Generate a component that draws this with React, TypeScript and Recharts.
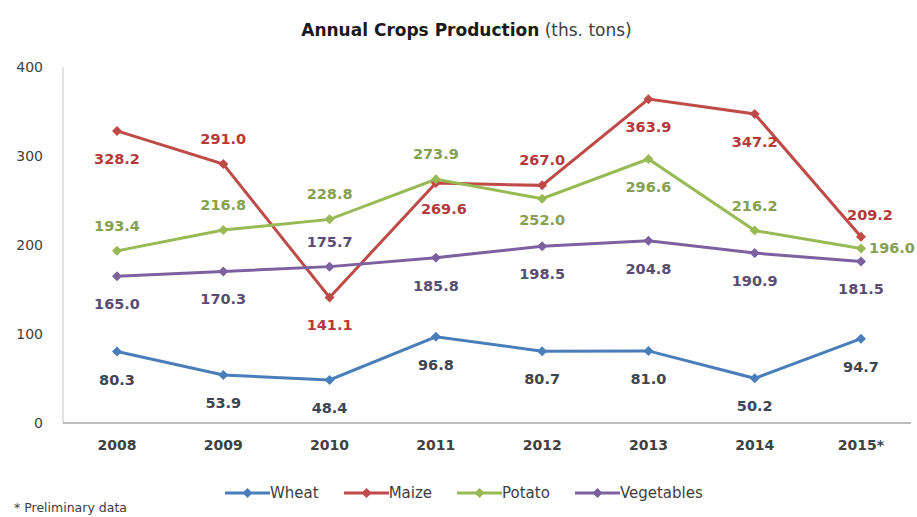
import React from "react";
import { LineChart, Line, XAxis, YAxis } from "recharts";

const years = ["2008", "2009", "2010", "2011", "2012", "2013", "2014", "2015*"];
const wheat = [80.3, 53.9, 48.4, 96.8, 80.7, 81.0, 50.2, 94.7];
const maize = [328.2, 291.0, 141.1, 269.6, 267.0, 363.9, 347.2, 209.2];
const potato = [193.4, 216.8, 228.8, 273.9, 252.0, 296.6, 216.2, 196.0];
const vegetables = [165.0, 170.3, 175.7, 185.8, 198.5, 204.8, 190.9, 181.5];
const yTicks = [0, 100, 200, 300, 400];

const data = years.map((year, i) => ({
  year,
  wheat: wheat[i],
  maize: maize[i],
  potato: potato[i],
  vegetables: vegetables[i],
}));

// where each value label sits relative to its point
const wheatPlace = ["b", "b", "b", "b", "b", "b", "b", "b"];
const maizePlace = ["b", "a", "b", "br", "a", "b", "b", "ar"];
const potatoPlace = ["a", "a", "a", "a", "bs", "b", "a", "r"];
const vegPlace = ["b", "b", "a", "b", "b", "b", "b", "b"];

const FONT = "'DejaVu Sans', sans-serif";

const series = [
  { key: "wheat", name: "Wheat", color: "#4a7ebb", text: "#3d4554", place: wheatPlace },
  { key: "maize", name: "Maize", color: "#be4b48", text: "#b5393a", place: maizePlace },
  { key: "potato", name: "Potato", color: "#98b954", text: "#86a052", place: potatoPlace },
  { key: "vegetables", name: "Vegetables", color: "#7d60a0", text: "#5a4d73", place: vegPlace },
];

const offsets: Record<string, [number, number]> = {
  a: [0, -25],
  b: [0, 28],
  bs: [0, 21],
  br: [8, 26],
  ar: [9, -22],
  r: [31, -1],
};

const diamond = (color: string) => (props: any) => {
  const { cx, cy, index } = props;
  if (cx == null || cy == null) return <g key={index} />;
  return (
    <path
      key={index}
      d={`M${cx},${cy - 5}L${cx + 5},${cy}L${cx},${cy + 5}L${cx - 5},${cy}Z`}
      fill={color}
    />
  );
};

const valueLabel = (color: string, place: string[]) => (props: any) => {
  const { x, y, value, index } = props;
  const [dx, dy] = offsets[place[index]] || [0, 28];
  return (
    <text
      key={index}
      x={x + dx}
      y={y + dy}
      textAnchor="middle"
      dominantBaseline="central"
      fill={color}
      fontFamily={FONT}
      fontWeight="bold"
      fontSize={14.5}
    >
      {Number(value).toFixed(1)}
    </text>
  );
};

function LegendRow() {
  return (
    <div
      style={{
        position: "absolute",
        top: 484,
        left: 225,
        display: "flex",
        alignItems: "center",
        fontFamily: FONT,
        fontSize: 15,
        color: "#404040",
      }}
    >
      {series.map((s) => (
        <div key={s.key} style={{ display: "flex", alignItems: "center", marginRight: 25 }}>
          <svg width={45} height={14}>
            <line x1={0} y1={7} x2={45} y2={7} stroke={s.color} strokeWidth={3} />
            <path d="M22.5,2L27.5,7L22.5,12L17.5,7Z" fill={s.color} />
          </svg>
          <span style={{ lineHeight: "18px" }}>{s.name}</span>
        </div>
      ))}
    </div>
  );
}

export default function App() {
  return (
    <div
      style={{
        position: "absolute",
        left: 0,
        top: 0,
        width: 917,
        height: 517,
        background: "#fff",
        overflow: "hidden",
      }}
    >
      <div
        style={{
          position: "absolute",
          top: 20,
          left: 0,
          width: 917,
          paddingLeft: 16,
          boxSizing: "border-box",
          textAlign: "center",
          fontFamily: FONT,
          fontSize: 17,
          lineHeight: "20px",
          color: "#1a1a1a",
        }}
      >
        <span style={{ fontWeight: "bold" }}>Annual Crops Production</span>{" "}
        <span style={{ color: "#404040" }}>(ths. tons)</span>
      </div>

      <LineChart
        width={917}
        height={517}
        data={data}
        margin={{ top: 67, right: 6, left: 0, bottom: 64 }}
      >
        <XAxis
          dataKey="year"
          height={30}
          padding={{ left: 54, right: 50 }}
          axisLine={{ stroke: "#a6a6a6", strokeWidth: 1.5 }}
          tickLine={false}
          tickMargin={11}
          tick={{ fill: "#404040", fontFamily: FONT, fontSize: 14, fontWeight: "bold" }}
        />
        <YAxis
          width={63}
          domain={[0, 400]}
          ticks={yTicks}
          axisLine={{ stroke: "#c4c4c4" }}
          tickLine={false}
          tickMargin={14}
          tick={{ fill: "#404040", fontFamily: FONT, fontSize: 14 }}
        />
        {series.map((s) => (
          <Line
            key={s.key}
            type="linear"
            dataKey={s.key}
            name={s.name}
            stroke={s.color}
            strokeWidth={3}
            dot={diamond(s.color)}
            activeDot={false}
            label={valueLabel(s.text, s.place)}
            isAnimationActive={false}
          />
        ))}
      </LineChart>

      <LegendRow />

      <div
        style={{
          position: "absolute",
          top: 500,
          left: 14,
          fontFamily: FONT,
          fontSize: 12.5,
          color: "#404040",
          whiteSpace: "nowrap",
        }}
      >
        * Preliminary data
      </div>
    </div>
  );
}
